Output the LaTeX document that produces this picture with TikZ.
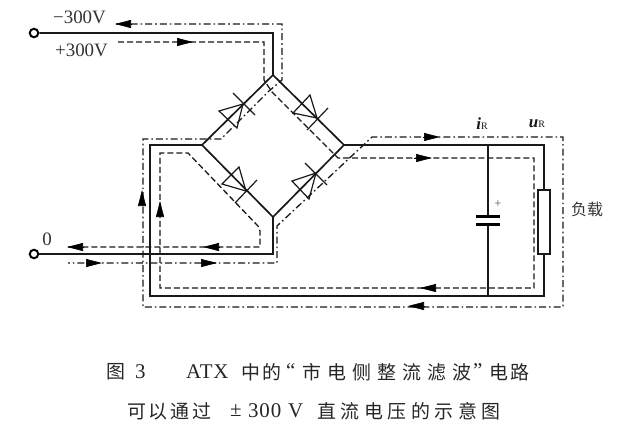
\documentclass[tikz,border=0pt]{standalone}
\usepackage{fontspec}
\usetikzlibrary{arrows.meta,calc}
\setmainfont{Liberation Serif}
\newfontfamily\cjkA[LetterSpace=32]{Noto Sans CJK SC}
\newfontfamily\cjkD[LetterSpace=24]{Noto Sans CJK SC}
\newfontfamily\cjkB[LetterSpace=15]{Noto Sans CJK SC}
\newfontfamily\cjkC{Noto Sans CJK SC}
\newfontfamily\latS[LetterSpace=4]{Liberation Serif}
\tikzset{
  wire/.style={line width=1.7bp,line join=miter,black!90},
  thinwire/.style={line width=1.4bp,black!90},
  dd/.style={line width=1.3bp,black!90,dash pattern=on 7bp off 3bp on 1.6bp off 3bp},
  ds/.style={line width=1.3bp,black!90,dash pattern=on 6bp off 3bp},
  head/.style={-{Triangle[length=16bp,width=8bp]},black,line width=0.6bp,shorten >=0pt},
  term/.style={circle,draw=black,line width=2bp,fill=white,minimum size=8.5bp,inner sep=0pt},
  dio/.style={line width=1.2bp,black!90,line join=miter},
  lab/.style={inner sep=0pt,text=black!80,font=\fontsize{19}{19}\selectfont},
  captext/.style={inner sep=0pt,anchor=west,text=black!85},
  latcap/.style={font=\fontsize{21}{21}\selectfont\latS},
  sym/.style={inner sep=0pt,text=black!90,font=\fontsize{17}{17}\selectfont\itshape\bfseries}
}
\newcommand{\coord}[2]{\coordinate (#1) at (#2);}
\newcommand{\headat}[4]{\coordinate (#1b) at (#2,#4);\coordinate (#1t) at (#3,#4);\draw[head] (#1b) -- (#1t);}
\newcommand{\diode}[6]{%
  \coordinate (#1a) at (#2);\coordinate (#1p) at (#3);\coordinate (#1q) at (#4);
  \coordinate (#1r) at (#5);\coordinate (#1s) at (#6);
  \draw[dio] (#1a) -- (#1p) -- (#1q) -- cycle;
  \draw[dio] (#1r) -- (#1s);}
\begin{document}
\begin{tikzpicture}[x=1bp,y=-1bp]
\useasboundingbox (0,0) rectangle (618,427);
% junctions
\coord{T}{273,75}\coord{R}{344,145}\coord{L}{202,145}\coord{B}{273,217}
\coord{c1}{273,33}\coord{c2}{150,145}\coord{c3}{150,296}\coord{c4}{544,296}\coord{c5}{544,145}
\coord{c6}{273,254}\coord{ct}{488,145}\coord{cb}{488,296}
\coord{p1t}{488,216}\coord{p2t}{488,224}
\coord{pa}{476,216}\coord{pb}{500,216}\coord{pc}{476,224}\coord{pd}{500,224}
\node[term] (t1) at (34,33) {};
\node[term] (t2) at (34,254) {};
% dash-dot path
\coord{d1}{116,24}\coord{d2}{282,24}\coord{d3}{282,80}\coord{d4}{269,91}\coord{d5}{221,139}
\coord{d6}{143,139}\coord{d7}{143,307}\coord{d8}{563,307}\coord{d9}{563,137}\coord{d10}{372,137}
\coord{d11}{277,226}\coord{d12}{277,263}\coord{d13}{68,263}
\draw[dd] (d1) -- (d2) -- (d3) -- (d4) -- (d5) -- (d6) -- (d7) -- (d8) -- (d9) -- (d10) -- (d11) -- (d12) -- (d13);
% dashed path
\coord{e1}{118,42}\coord{e2}{264,42}\coord{e3}{264,80}\coord{e4}{272,92}\coord{e5}{338,158}
\coord{e6}{534,158}\coord{e7}{534,288}\coord{e8}{160,288}\coord{e9}{160,153}\coord{e10}{188,153}
\coord{e11}{258,226}\coord{e12}{260,231}\coord{e13}{260,247}\coord{e14}{68,247}
\draw[ds] (e1) -- (e2) -- (e3) -- (e4) -- (e5) -- (e6) -- (e7) -- (e8) -- (e9) -- (e10) -- (e11) -- (e12) -- (e13) -- (e14);
% solid wires
\draw[wire] (t1) -- (c1) -- (T) -- (R) -- (B) -- (L) -- (T);
\draw[wire] (L) -- (c2) -- (c3) -- (c4) -- (c5) -- (R);
\draw[wire] (B) -- (c6) -- (t2);
\draw[thinwire] (ct) -- (p1t) (p2t) -- (cb);
\draw[line width=3bp,black] (pa) -- (pb) (pc) -- (pd);
\node[draw=black!90,fill=white,line width=1.3bp,minimum width=12bp,minimum height=64bp,inner sep=0pt] (res) at (544,222) {};
% diodes
\diode{u}{243,104}{219,111}{237,128}{233,93}{255,115}
\diode{v}{317,118}{310,95}{293,113}{328,108}{307,130}
\diode{w}{246,191}{239,167}{222,184}{257,180}{235,203}
\diode{x}{316,173}{292,181}{309,199}{305,163}{327,185}
% arrowheads
\headat{h1}{132}{115}{24}
\headat{h2}{177}{193}{42}
\headat{h3}{423}{440}{137}
\headat{h4}{414}{432}{158}
\headat{h5}{434}{420}{288}
\headat{h6}{424}{408}{306}
\headat{h7}{83}{67}{247}
\headat{h8}{219}{203}{247}
\headat{h9}{86}{102}{263}
\headat{h10}{201}{217}{263}
\coordinate (v1b) at (142,204);\coordinate (v1t) at (142,190);\draw[head] (v1b) -- (v1t);
\coordinate (v2b) at (160,216);\coordinate (v2t) at (160,201);\draw[head] (v2b) -- (v2t);
% labels
\node[lab] (l1) at (79.5,17) {−300V};
\node[lab] (l2) at (81.5,50) {+300V};
\node[lab] (l3) at (47,239) {0};
\node[sym] (l4) at (482,124) {i\fontsize{10}{10}\selectfont\upshape\mdseries R};
\node[sym] (l5) at (537,124) {u\fontsize{10}{10}\selectfont\upshape\mdseries R};
\node[inner sep=0pt,text=black!70,font=\fontsize{12}{12}\selectfont] (l6) at (498,204) {+};
\node[lab,font=\fontsize{16}{16}\selectfont\cjkC] (l7) at (587,209) {负载};
% caption
\node[captext,font=\fontsize{19}{19}\selectfont\cjkC] (k1) at (106,372) {图};
\node[captext,latcap] (k2) at (135,372) {3};
\node[captext,latcap] (k3) at (186,372) {ATX};
\node[captext,font=\fontsize{19}{19}\selectfont\cjkB] (k4) at (241,372) {中的};
\node[captext,latcap] (k5) at (286,371) {“};
\node[captext,font=\fontsize{19}{19}\selectfont\cjkA] (k6) at (302,372) {市电侧整流滤波};
\node[captext,latcap] (k7) at (473,371) {”};
\node[captext,font=\fontsize{19}{19}\selectfont\cjkB] (k8) at (489,372) {电路};
\node[captext,font=\fontsize{19}{19}\selectfont\cjkB] (k9) at (127,411) {可以通过};
\node[captext,latcap] (k10a) at (230,411) {±};
\node[captext,latcap] (k10) at (248,411) {300};
\node[captext,latcap] (k11) at (288,411) {V};
\node[captext,font=\fontsize{19}{19}\selectfont\cjkD] (k12) at (317,411) {直流电压的示意图};
\end{tikzpicture}
\end{document}
